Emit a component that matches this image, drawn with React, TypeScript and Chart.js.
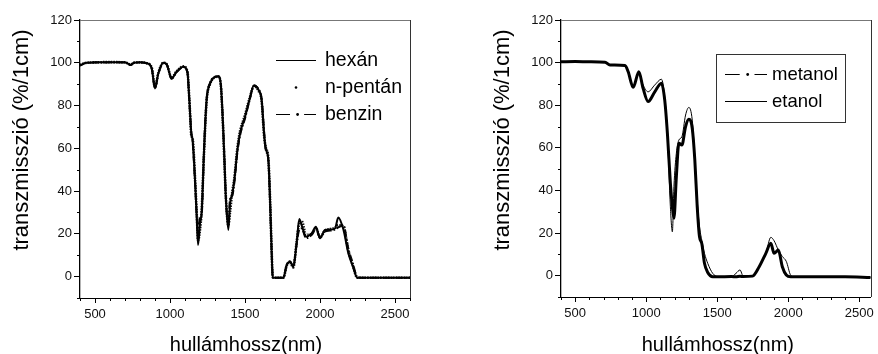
import React, { useEffect, useRef } from "react";
import { Chart, registerables } from "chart.js";

Chart.register(...registerables);

const FONT = '"Liberation Sans", Arial, Helvetica, sans-serif';

// ---------- left panel data ----------
const LEFT_NM = [400, 420, 445, 500, 600, 700, 738, 760, 800, 845, 878, 900, 922, 956, 978, 1011, 1044, 1089, 1116, 1129, 1142, 1151, 1167, 1178, 1187, 1200, 1211, 1227, 1244, 1267, 1300, 1322, 1338, 1351, 1362, 1373, 1389, 1400, 1416, 1429, 1449, 1467, 1500, 1529, 1560, 1589, 1611, 1627, 1638, 1656, 1667, 1678, 1685, 1700, 1756, 1778, 1800, 1822, 1844, 1862, 1878, 1907, 1944, 1973, 2000, 2033, 2067, 2100, 2122, 2156, 2189, 2218, 2249, 2300, 2400, 2500, 2600];
const HEXAN = [98.8, 99.5, 100, 100.2, 100.3, 100.2, 99.0, 100, 100.2, 99.8, 97.5, 88, 95, 100, 99.3, 92.7, 95.8, 98.1, 95.8, 82.5, 67, 63.8, 45, 28, 14.8, 25, 30, 59, 82.5, 90.3, 93.4, 93.7, 90.3, 74.7, 56, 35.8, 21.8, 34, 39, 45, 59, 67, 74.7, 82.5, 89.5, 87.5, 82.5, 67, 60, 54.5, 35.8, 10.9, -0.3, -0.5, -0.5, 5.4, 7, 4.6, 15.6, 27, 24, 18.7, 20.2, 23.3, 17.9, 21.8, 22, 22.5, 27.7, 22, 10.9, 5, -0.5, -0.5, -0.5, -0.5, -0.5];
const NPENTAN = [99.0, 99.6, 100, 100.2, 100.3, 100.2, 99.2, 100, 100.2, 99.8, 97.8, 88.5, 95.2, 100, 99.3, 93, 96, 98.3, 96, 83, 66, 64.5, 46, 30, 17, 22, 31, 58, 82, 90, 93.2, 93.5, 90, 74, 55, 36.5, 24, 30, 40, 46, 60, 68, 75.5, 83, 89, 87, 82, 66, 60.5, 55, 36.5, 11.5, -0.3, -0.5, -0.5, 5.2, 6.6, 4.3, 16, 25, 26, 19.5, 20, 22.8, 18.3, 21.5, 22.3, 22.8, 24, 23.5, 12, 5.5, -0.5, -0.5, -0.5, -0.5, -0.5];
const BENZIN = [98.6, 99.4, 100, 100.1, 100.2, 100.1, 98.9, 100, 100.1, 99.7, 97.3, 88.2, 94.8, 99.8, 99.2, 92.5, 95.6, 98, 95.5, 82, 67.5, 63, 44, 29, 20, 28, 29, 60, 83, 90.5, 93.5, 93.6, 90.5, 75.5, 57, 36, 26, 36, 38, 44, 58, 66, 74, 82, 89.3, 87.8, 83, 68, 59.5, 54, 35, 10.5, -0.3, -0.5, -0.5, 5.6, 7.2, 4.8, 15, 22, 22.5, 18, 19.5, 22, 18.5, 21, 21.5, 22, 23, 24, 13, 6.5, -0.3, -0.5, -0.5, -0.5, -0.5];

// ---------- right panel data ----------
const RIGHT_NM = [400, 500, 600, 710, 745, 850, 873, 908, 948, 978, 1013, 1060, 1107, 1130, 1149, 1170, 1184, 1195, 1212, 1230, 1251, 1277, 1300, 1324, 1342, 1359, 1375, 1391, 1410, 1433, 1468, 1503, 1600, 1632, 1660, 1683, 1748, 1795, 1842, 1877, 1900, 1930, 1958, 1986, 2017, 2040, 2200, 2400, 2580];
const METANOL = [100.4, 100.5, 100.4, 100.2, 98.9, 98.6, 95.7, 88.4, 95.7, 87.9, 81.7, 86.3, 90.3, 82.5, 66.8, 43.3, 32.3, 27, 46.4, 62.2, 61.3, 70, 73.4, 69.1, 54.3, 32.3, 18.2, 15.1, 5.8, 1.5, -0.5, -0.5, -0.4, -0.5, -0.3, -0.4, -0.2, 4.2, 10.5, 15.2, 10.5, 12, 4.2, 0.3, -0.5, -0.5, -0.5, -0.5, -0.8];
const ETANOL = [100.4, 100.5, 100.4, 100.2, 99, 98.7, 95.5, 88.6, 95.5, 89.5, 86.3, 89.5, 92.2, 84, 66.8, 32.3, 20.6, 41.8, 57.4, 63.7, 65.2, 75.4, 79, 73, 55.8, 35.5, 23, 16.7, 10.5, 5.8, 1.1, -0.4, -0.4, 1.1, 2.7, -0.3, -0.2, 4.2, 10.5, 18, 16.4, 12, 9, 6.7, 0.2, -0.5, -0.5, -0.5, -0.8];

const X_MAJOR_LABELS = [500, 1000, 1500, 2000, 2500];
const Y_MAJOR_LABELS = [0, 20, 40, 60, 80, 100, 120];

const X_TITLE = "hullámhossz(nm)";
const Y_TITLE = "transzmisszió (%/1cm)";

const pts = (xs: number[], ys: number[]) => xs.map((x, i) => ({ x, y: ys[i] }));

const decorPlugin = {
  id: "decor",
  afterDraw(chart: any, _args: any, opts: any) {
    const { ctx, chartArea: a, scales } = chart;
    const xs = scales.x;
    const ys = scales.y;
    ctx.save();
    // top & right frame
    ctx.lineWidth = 1;
    ctx.strokeStyle = "#777";
    ctx.beginPath();
    ctx.moveTo(a.left, Math.round(a.top) + 0.5);
    ctx.lineTo(Math.round(a.right) + 0.5, Math.round(a.top) + 0.5);
    ctx.stroke();
    ctx.strokeStyle = "#333";
    ctx.beginPath();
    ctx.moveTo(Math.round(a.right) + 0.5, a.top);
    ctx.lineTo(Math.round(a.right) + 0.5, a.bottom);
    ctx.stroke();
    // minor ticks
    ctx.strokeStyle = "#000";
    ctx.beginPath();
    xs.ticks.forEach((t: any) => {
      if (!X_MAJOR_LABELS.includes(t.value)) {
        const px = Math.round(xs.getPixelForValue(t.value)) + 0.5;
        ctx.moveTo(px, a.bottom);
        ctx.lineTo(px, a.bottom + 3);
      }
    });
    ys.ticks.forEach((t: any) => {
      if (!Y_MAJOR_LABELS.includes(t.value)) {
        const py = Math.round(ys.getPixelForValue(t.value)) + 0.5;
        ctx.moveTo(a.left, py);
        ctx.lineTo(a.left - 3, py);
      }
    });
    ctx.stroke();
    // axis titles
    ctx.fillStyle = "#000";
    ctx.textAlign = "center";
    ctx.textBaseline = "middle";
    ctx.font = `20px ${FONT}`;
    ctx.fillText(X_TITLE, (a.left + a.right) / 2 + opts.xTitleDx, opts.xTitleY);
    ctx.save();
    ctx.translate(opts.yTitleX, opts.yTitleY);
    ctx.rotate(-Math.PI / 2);
    ctx.font = `22px ${FONT}`;
    ctx.fillText(Y_TITLE, 0, 0);
    ctx.restore();
    // legend
    const lg = opts.legend;
    if (lg.box) {
      ctx.strokeStyle = "#333";
      ctx.lineWidth = 1;
      ctx.strokeRect(lg.box[0] + 0.5, lg.box[1] + 0.5, lg.box[2], lg.box[3]);
    }
    ctx.font = `${lg.fontSize}px ${FONT}`;
    ctx.textAlign = "left";
    ctx.fillStyle = "#000";
    lg.items.forEach((it: any, i: number) => {
      const y = lg.y0 + i * lg.dy;
      const ly = Math.round(y) + 0.5;
      ctx.strokeStyle = "#000";
      ctx.fillStyle = "#000";
      ctx.lineWidth = 1;
      if (it.style === "solid") {
        ctx.setLineDash([]);
        ctx.beginPath();
        ctx.moveTo(lg.x0, ly);
        ctx.lineTo(lg.x1, ly);
        ctx.stroke();
      } else if (it.style === "dot") {
        ctx.beginPath();
        ctx.arc((lg.x0 + lg.x1) / 2, ly, 1.3, 0, Math.PI * 2);
        ctx.fill();
      } else {
        const w = lg.x1 - lg.x0;
        const dash = w * 0.35;
        ctx.setLineDash([]);
        ctx.beginPath();
        ctx.moveTo(lg.x0, ly);
        ctx.lineTo(lg.x0 + dash, ly);
        ctx.moveTo(lg.x1 - dash * 0.85, ly);
        ctx.lineTo(lg.x1, ly);
        ctx.stroke();
        ctx.beginPath();
        ctx.arc(lg.x0 + w * 0.54, ly, 1.4, 0, Math.PI * 2);
        ctx.fill();
      }
      ctx.fillText(it.label, lg.textX, y + 1);
    });
    ctx.restore();
  },
};

function makeOptions(cfg: any) {
  const tickFont = { family: FONT, size: 13 };
  return {
    responsive: false,
    animation: false,
    devicePixelRatio: 1,
    layout: { padding: { left: cfg.padL, right: cfg.padR, top: 20, bottom: 0 } },
    elements: { point: { radius: 0 } },
    plugins: {
      legend: { display: false },
      tooltip: { enabled: false },
      decor: cfg.decor,
    },
    scales: {
      x: {
        type: "linear",
        min: 400,
        max: cfg.xMax,
        afterFit: (s: any) => {
          s.height = cfg.xH;
        },
        afterBuildTicks: (s: any) => {
          const t: any[] = [];
          for (let v = 400; v <= cfg.xMax; v += 100) t.push({ value: v });
          s.ticks = t;
        },
        ticks: {
          stepSize: 100,
          autoSkip: false,
          maxRotation: 0,
          padding: 4,
          color: "#111",
          font: tickFont,
          callback: (v: any) => (X_MAJOR_LABELS.includes(v) ? String(v) : ""),
        },
        grid: {
          drawOnChartArea: false,
          tickLength: 5,
          tickColor: (c: any) => (c.tick && X_MAJOR_LABELS.includes(c.tick.value) ? "#000" : "rgba(0,0,0,0)"),
        },
        border: { color: "#000", width: 1 },
      },
      y: {
        type: "linear",
        min: -10,
        max: 120,
        afterFit: (s: any) => {
          s.width = 80;
        },
        ticks: {
          stepSize: 10,
          autoSkip: false,
          padding: 2,
          color: "#111",
          font: tickFont,
          callback: (v: any) => (Y_MAJOR_LABELS.includes(v) ? String(v) : ""),
        },
        grid: {
          drawOnChartArea: false,
          tickLength: 6,
          tickColor: (c: any) => (c.tick && Y_MAJOR_LABELS.includes(c.tick.value) ? "#000" : "rgba(0,0,0,0)"),
        },
        border: { color: "#000", width: 1.3 },
      },
    },
  };
}

function Panel({ width, left, datasets, cfg }: any) {
  const ref = useRef<HTMLCanvasElement | null>(null);
  useEffect(() => {
    if (!ref.current) return;
    const chart = new Chart(ref.current, {
      type: "line",
      data: { datasets },
      options: makeOptions(cfg) as any,
      plugins: [decorPlugin as any],
    });
    return () => chart.destroy();
  }, []);
  return (
    <canvas
      ref={ref}
      width={width}
      height={354}
      style={{ position: "absolute", left, top: 0, width, height: 354, display: "block" }}
    />
  );
}

export default function App() {
  const leftSets = [
    {
      label: "hexán",
      data: pts(LEFT_NM, HEXAN),
      borderColor: "#000",
      borderWidth: 2,
      cubicInterpolationMode: "monotone",
      fill: false,
    },
    {
      label: "n-pentán",
      data: pts(LEFT_NM, NPENTAN),
      borderColor: "#111",
      borderWidth: 2.6,
      borderDash: [1.4, 1.2],
      cubicInterpolationMode: "monotone",
      fill: false,
    },
    {
      label: "benzin",
      data: pts(LEFT_NM, BENZIN),
      borderColor: "#000",
      borderWidth: 2,
      borderDash: [7, 2, 1.5, 2],
      cubicInterpolationMode: "monotone",
      fill: false,
    },
  ];
  const rightSets = [
    {
      label: "metanol",
      data: pts(RIGHT_NM, METANOL),
      borderColor: "#000",
      borderWidth: 3,
      cubicInterpolationMode: "monotone",
      fill: false,
    },
    {
      label: "etanol",
      data: pts(RIGHT_NM, ETANOL),
      borderColor: "#000",
      borderWidth: 1,
      cubicInterpolationMode: "monotone",
      fill: false,
    },
  ];
  const leftCfg = {
    padL: 0,
    padR: 30,
    xMax: 2600,
    xH: 56,
    decor: {
      xTitleY: 345,
      xTitleDx: 1,
      yTitleX: 22,
      yTitleY: 140,
      legend: {
        x0: 276,
        x1: 316,
        textX: 325,
        y0: 60,
        dy: 27,
        fontSize: 19.5,
        box: null,
        items: [
          { label: "hexán", style: "solid" },
          { label: "n-pentán", style: "dot" },
          { label: "benzin", style: "dashdot" },
        ],
      },
    },
  };
  const rightCfg = {
    padL: 41,
    padR: 6,
    xMax: 2580,
    xH: 57,
    decor: {
      xTitleY: 345,
      xTitleDx: 2,
      yTitleX: 62.5,
      yTitleY: 140,
      legend: {
        x0: 285,
        x1: 327,
        textX: 332,
        y0: 73.5,
        dy: 27.5,
        fontSize: 18.5,
        box: [276, 54, 129, 68],
        items: [
          { label: "metanol", style: "dashdot" },
          { label: "etanol", style: "solid" },
        ],
      },
    },
  };
  return (
    <div style={{ position: "fixed", left: 0, top: 0, width: 878, height: 354, background: "#fff", overflow: "hidden" }}>
      <Panel width={440} left={0} datasets={leftSets} cfg={leftCfg} />
      <Panel width={438} left={440} datasets={rightSets} cfg={rightCfg} />
    </div>
  );
}
